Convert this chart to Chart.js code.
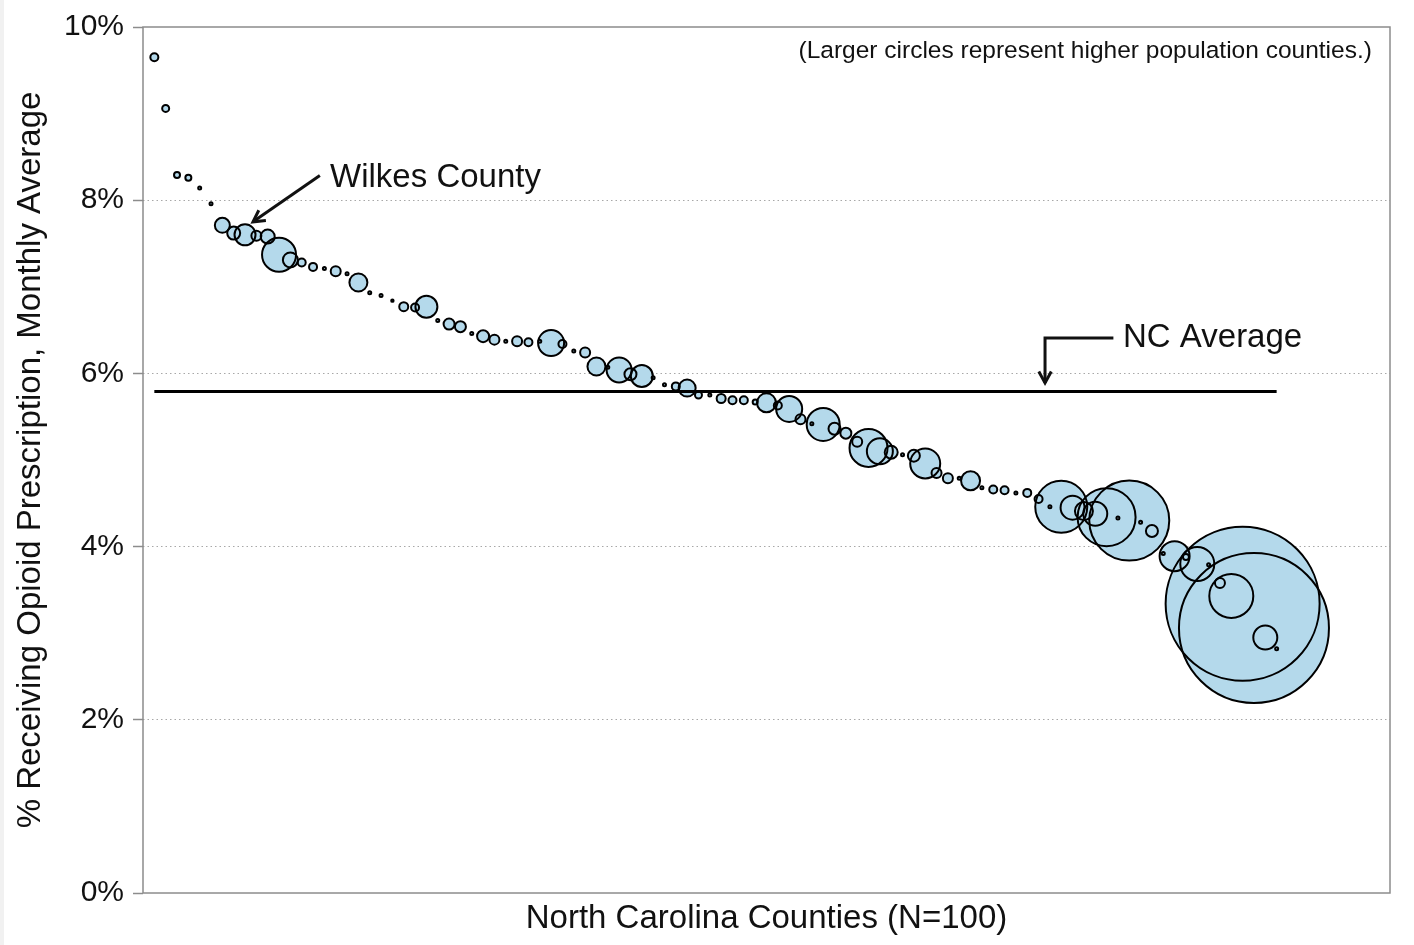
<!DOCTYPE html>
<html>
<head>
<meta charset="utf-8">
<script src="https://cdn.jsdelivr.net/npm/chart.js@4"></script>
<style>
  body { margin: 0; background: #fff; }
</style>
</head>
<body>
<canvas id="myChart" width="1414" height="945"></canvas>
<script>
// County rates, sorted high to low (% receiving opioid prescription, monthly avg)
const rates = [
  9.65, 9.06, 8.29, 8.26, 8.14, 7.96, 7.71, 7.62, 7.60, 7.59,
  7.58, 7.37, 7.31, 7.28, 7.23, 7.21, 7.18, 7.15, 7.05, 6.93,
  6.90, 6.84, 6.77, 6.76, 6.77, 6.61, 6.57, 6.54, 6.46, 6.43,
  6.39, 6.37, 6.37, 6.36, 6.37, 6.35, 6.34, 6.26, 6.24, 6.08,
  6.07, 6.04, 5.99, 5.97, 5.95, 5.87, 5.85, 5.83, 5.75, 5.75,
  5.71, 5.69, 5.69, 5.67, 5.66, 5.63, 5.59, 5.47, 5.42, 5.41,
  5.36, 5.31, 5.21, 5.14, 5.10, 5.09, 5.06, 5.05, 4.96, 4.85,
  4.79, 4.79, 4.76, 4.68, 4.66, 4.65, 4.62, 4.62, 4.55, 4.46,
  4.46, 4.45, 4.41, 4.38, 4.34, 4.33, 4.30, 4.28, 4.18, 3.92,
  3.89, 3.88, 3.80, 3.79, 3.58, 3.43, 3.34, 3.06, 2.95, 2.82
];

// Circle size for each county (bigger = more people)
const sizes = [
  4, 3.5, 3, 3, 1.5, 1.5, 7.5, 6.5, 10.5, 5,
  7, 17, 7.5, 4, 4, 1.5, 5, 1.5, 9, 1.5,
  1.5, 1.2, 4.5, 4, 11, 1.5, 5.5, 5.5, 1.5, 6,
  5, 1.5, 5, 4, 1.5, 13, 4, 1.5, 5, 9,
  1.5, 12.5, 6, 11, 1.5, 1.5, 4, 8.5, 3.5, 1.5,
  4.5, 4, 4, 2.5, 9.5, 4, 13, 5, 1.5, 16.5,
  6, 5.5, 5, 19, 13, 6.5, 1.5, 6, 15, 5,
  5, 1.5, 9.5, 1.5, 4, 4, 1.5, 4, 4, 1.5,
  26, 12, 9, 12, 29, 1.5, 40, 1.5, 6, 1.5,
  15, 3, 17, 1.5, 5, 22, 77, 75, 12, 1.5
];

const yTicks = [0, 2, 4, 6, 8, 10];
const ncAverage = 5.79;

const FONT = "'Liberation Sans', Arial, Helvetica, sans-serif";
const points = rates.map((v, i) => ({ x: i + 1, y: v, r: sizes[i] }));

// line with an open V head at the end
function arrow(ctx, pts) {
  ctx.beginPath();
  ctx.moveTo(pts[0][0], pts[0][1]);
  for (let i = 1; i < pts.length; i++) ctx.lineTo(pts[i][0], pts[i][1]);
  ctx.stroke();
  const [fx, fy] = pts[pts.length - 2];
  const [tx, ty] = pts[pts.length - 1];
  const a = Math.atan2(ty - fy, tx - fx);
  const len = 13, spread = 0.5;
  ctx.beginPath();
  ctx.moveTo(tx - len * Math.cos(a - spread), ty - len * Math.sin(a - spread));
  ctx.lineTo(tx, ty);
  ctx.lineTo(tx - len * Math.cos(a + spread), ty - len * Math.sin(a + spread));
  ctx.stroke();
}

// frame, left edge strip and the text notes
const notes = {
  id: 'notes',
  beforeDatasetsDraw(chart) {
    const { ctx, chartArea: a } = chart;
    ctx.save();
    ctx.fillStyle = '#f1f1f1';
    ctx.fillRect(0, 0, 4, chart.height);
    ctx.strokeStyle = '#8c8c8c';
    ctx.lineWidth = 1.5;
    ctx.strokeRect(a.left, a.top, a.right - a.left, a.bottom - a.top);
    ctx.restore();
  },
  afterDatasetsDraw(chart) {
    const { ctx, scales: { x, y } } = chart;
    const px = (vx, vy) => [x.getPixelForValue(vx), y.getPixelForValue(vy)];
    ctx.save();
    ctx.fillStyle = '#111';
    ctx.strokeStyle = '#111';
    ctx.lineWidth = 3;
    ctx.lineJoin = 'miter';
    ctx.textBaseline = 'middle';

    // Wilkes County
    ctx.font = '33px ' + FONT;
    ctx.textAlign = 'left';
    ctx.fillText('Wilkes County', x.getPixelForValue(16.5), y.getPixelForValue(8.26));
    arrow(ctx, [px(15.6, 8.285), px(9.7, 7.75)]);

    // NC Average
    ctx.fillText('NC Average', x.getPixelForValue(86.45), y.getPixelForValue(6.41));
    arrow(ctx, [px(85.6, 6.41), px(79.57, 6.41), px(79.57, 5.89)]);

    // size note
    ctx.font = '24.5px ' + FONT;
    ctx.textAlign = 'right';
    ctx.fillText('(Larger circles represent higher population counties.)', x.getPixelForValue(108.4), y.getPixelForValue(9.72));
    ctx.restore();
  }
};

const ctx = document.getElementById('myChart').getContext('2d');

new Chart(ctx, {
  type: 'bubble',
  data: {
    datasets: [
      {
        type: 'line',
        data: [{ x: 1, y: ncAverage }, { x: 100, y: ncAverage }],
        borderColor: '#000',
        borderWidth: 3,
        pointRadius: 0,
        order: 0
      },
      {
        data: points,
        backgroundColor: 'rgba(0,0,0,0)',
        borderColor: '#000',
        borderWidth: 2,
        order: 1
      },
      {
        data: points,
        backgroundColor: '#b4d9eb',
        borderWidth: 0,
        order: 2
      }
    ]
  },
  options: {
    responsive: false,
    animation: false,
    layout: { autoPadding: false, padding: { top: 24, right: 24, left: 0, bottom: 0 } },
    plugins: { legend: { display: false }, tooltip: { enabled: false } },
    scales: {
      x: {
        type: 'linear',
        min: 0,
        max: 110,
        ticks: { display: false },
        grid: { display: false },
        border: { display: false },
        title: {
          display: true,
          text: 'North Carolina Counties (N=100)',
          color: '#111',
          font: { family: FONT, size: 33 },
          padding: { top: 0, bottom: 6 }
        },
        afterFit: (s) => { s.height = 52; }
      },
      y: {
        min: 0,
        max: 10,
        afterBuildTicks: (s) => { s.ticks = yTicks.map(v => ({ value: v })); },
        ticks: {
          callback: (v) => v + '%',
          color: '#111',
          padding: 9,
          font: { family: FONT, size: 30 }
        },
        grid: {
          color: (c) => (c.tick && (c.tick.value === 0 || c.tick.value === 10)) ? 'rgba(0,0,0,0)' : '#a8a8a8',
          tickBorderDash: [],
          tickColor: '#8c8c8c',
          tickLength: 10,
          tickWidth: 1.5
        },
        border: { display: false, dash: [1.5, 3] },
        title: {
          display: true,
          text: '% Receiving Opioid Prescription, Monthly Average',
          color: '#111',
          font: { family: FONT, size: 33 },
          padding: { top: 11, bottom: 0 }
        },
        afterFit: (s) => { s.width = 143; }
      }
    }
  },
  plugins: [notes]
});
</script>
</body>
</html>
